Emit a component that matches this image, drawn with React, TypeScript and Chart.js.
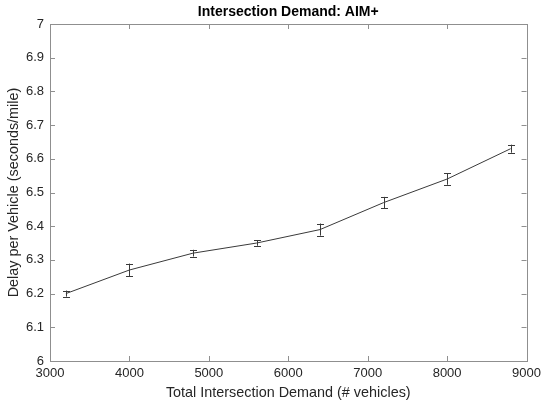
import React, { useEffect, useRef } from "react";
import { Chart, registerables } from "chart.js";

Chart.register(...registerables);

const titleText = "Intersection Demand: AIM+";
const xTitle = "Total Intersection Demand (# vehicles)";
const yTitle = "Delay per Vehicle (seconds/mile)";

const demand = [3200, 4000, 4800, 5600, 6400, 7200, 8000, 8800];
const delay = [6.2, 6.27, 6.32, 6.35, 6.39, 6.47, 6.54, 6.63];
const delayErr = [0.009, 0.019, 0.01, 0.008, 0.018, 0.017, 0.017, 0.012];

const xTickLabels = ["3000", "4000", "5000", "6000", "7000", "8000", "9000"];
const yTickLabels = ["6", "6.1", "6.2", "6.3", "6.4", "6.5", "6.6", "6.7", "6.8", "6.9", "7"];

const FONT = "'Liberation Sans', Arial, Helvetica, sans-serif";
const AXIS_COLOR = "#8f8f8f";
const LINE_COLOR = "#3a3a3a";

const boxPlugin = {
  id: "matlabBox",
  afterDatasetsDraw(chart: any) {
    const { ctx, chartArea, scales } = chart;
    const { left, right, top, bottom } = chartArea;
    const xs = scales.x;
    const ys = scales.y;
    // error bars
    ctx.save();
    ctx.strokeStyle = LINE_COLOR;
    ctx.lineWidth = 1;
    demand.forEach((d, i) => {
      const px = Math.round(xs.getPixelForValue(d)) + 0.5;
      const y1 = ys.getPixelForValue(delay[i] - delayErr[i]);
      const y2 = ys.getPixelForValue(delay[i] + delayErr[i]);
      ctx.beginPath();
      ctx.moveTo(px, y1);
      ctx.lineTo(px, y2);
      ctx.moveTo(px - 3.5, Math.round(y1) + 0.5);
      ctx.lineTo(px + 3.5, Math.round(y1) + 0.5);
      ctx.moveTo(px - 3.5, Math.round(y2) + 0.5);
      ctx.lineTo(px + 3.5, Math.round(y2) + 0.5);
      ctx.stroke();
    });
    // box
    ctx.strokeStyle = AXIS_COLOR;
    ctx.lineWidth = 1;
    ctx.strokeRect(Math.round(left) + 0.5, Math.round(top) + 0.5, Math.round(right - left), Math.round(bottom - top));
    // inward ticks
    const tl = 5;
    ctx.beginPath();
    xs.ticks.forEach((t: any) => {
      const px = Math.round(xs.getPixelForValue(t.value)) + 0.5;
      ctx.moveTo(px, bottom);
      ctx.lineTo(px, bottom - tl);
      ctx.moveTo(px, top);
      ctx.lineTo(px, top + tl);
    });
    ys.ticks.forEach((t: any) => {
      const py = Math.round(ys.getPixelForValue(t.value)) + 0.5;
      ctx.moveTo(left, py);
      ctx.lineTo(left + tl, py);
      ctx.moveTo(right, py);
      ctx.lineTo(right - tl, py);
    });
    ctx.stroke();
    // title
    ctx.fillStyle = "#000";
    ctx.font = `bold 14px ${FONT}`;
    ctx.textAlign = "center";
    ctx.textBaseline = "middle";
    ctx.fillText(titleText, (left + right) / 2, 12);
    ctx.restore();
  },
};

export default function App() {
  const ref = useRef<HTMLCanvasElement | null>(null);
  useEffect(() => {
    document.body.style.margin = "0";
    const canvas = ref.current!;
    const chart = new Chart(canvas, {
      type: "line",
      data: {
        datasets: [
          {
            data: demand.map((d, i) => ({ x: d, y: delay[i] })),
            borderColor: LINE_COLOR,
            borderWidth: 1,
            pointRadius: 0,
            fill: false,
            tension: 0,
          },
        ],
      },
      options: {
        animation: false,
        responsive: false,
        devicePixelRatio: 1,
        layout: { padding: { top: 24, right: 15, left: 0, bottom: 0 } },
        plugins: { legend: { display: false }, tooltip: { enabled: false }, title: { display: false } },
        scales: {
          x: {
            type: "linear",
            min: 3000,
            max: 9000,
            afterFit: (s: any) => {
              s.height = 43;
            },
            ticks: {
              stepSize: 1000,
              maxRotation: 0,
              padding: 5,
              color: "#262626",
              font: { family: FONT, size: 13 },
              callback: (_v: any, i: number) => xTickLabels[i],
            },
            grid: { display: false, drawTicks: false },
            border: { display: false },
            title: {
              display: true,
              text: xTitle,
              color: "#262626",
              font: { family: FONT, size: 14.4 },
              padding: { top: 0, bottom: 2 },
            },
          },
          y: {
            type: "linear",
            min: 6,
            max: 7,
            afterFit: (s: any) => {
              s.width = 50;
            },
            ticks: {
              stepSize: 0.1,
              padding: 6,
              color: "#262626",
              font: { family: FONT, size: 13 },
              callback: (_v: any, i: number) => yTickLabels[i],
            },
            grid: { display: false, drawTicks: false },
            border: { display: false },
            title: {
              display: true,
              text: yTitle,
              color: "#262626",
              font: { family: FONT, size: 14.4 },
              padding: { top: 5, bottom: 0 },
            },
          },
        },
      },
      plugins: [boxPlugin],
    } as any);
    return () => chart.destroy();
  }, []);
  return (
    <div style={{ width: 546, height: 404, background: "#fff" }}>
      <canvas ref={ref} width={546} height={404} style={{ display: "block" }} />
    </div>
  );
}
